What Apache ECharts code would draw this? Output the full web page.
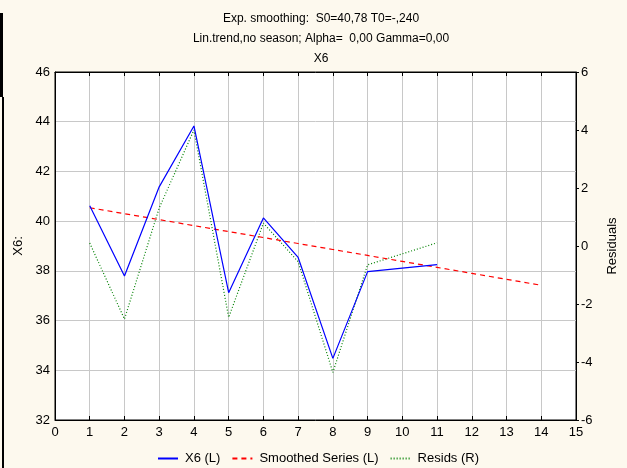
<!DOCTYPE html>
<html>
<head>
<meta charset="utf-8">
<script src="https://cdn.jsdelivr.net/npm/echarts@6/dist/echarts.min.js"></script>
<style>
  html, body { margin: 0; padding: 0; background: #fdf9ee; }
  #chart { width: 627px; height: 468px; }
</style>
</head>
<body>
<div id="chart"></div>
<script>
// Observed series X6 (left axis), time index 1..11
const obsT = [1, 2, 3, 4, 5, 6, 7, 8, 9, 10, 11];
const x6 = [40.62, 37.79, 41.38, 43.83, 37.12, 40.13, 38.54, 34.48, 37.97, 38.11, 38.25];
// Smoothed series with linear trend (left axis), time index 1..14
const smT = [1, 2, 3, 4, 5, 6, 7, 8, 9, 10, 11, 12, 13, 14];
const smoothed = [40.54, 40.30, 40.06, 39.82, 39.58, 39.34, 39.10, 38.86, 38.62, 38.38, 38.14, 37.90, 37.66, 37.42];
// Residuals (right axis)
const resids = [0.10, -2.52, 1.31, 4.00, -2.46, 0.79, -0.54, -4.36, -0.65, -0.27, 0.11];

const titleLines = [
  'Exp. smoothing:  S0=40,78 T0=-,240',
  'Lin.trend,no season; Alpha=  0,00 Gamma=0,00',
  'X6'
];

const pairs = (xs, ys) => xs.map((x, i) => [x, ys[i]]);

const font = 'Arial, "Liberation Sans", sans-serif';
const chart = echarts.init(document.getElementById('chart'));

chart.setOption({
  backgroundColor: '#fdf9ee',
  animation: false,
  title: {
    text: titleLines.join('\n'),
    left: 316,
    textAlign: 'center',
    top: 4,
    textStyle: { fontFamily: font, fontSize: 12, fontWeight: 'normal', color: '#000', lineHeight: 20 }
  },
  grid: { left: 55, right: 49, top: 72, bottom: 48, show: true, backgroundColor: '#fff', borderColor: '#000', borderWidth: 1 },
  legend: {
    bottom: -2,
    left: 152,
    itemWidth: 20,
    itemHeight: 10,
    itemGap: 11,
    itemStyle: { opacity: 0 },
    textStyle: { fontFamily: font, fontSize: 13, color: '#000', padding: [0, 0, 0, 2] },
    data: ['X6 (L)', 'Smoothed Series (L)', 'Resids (R)']
  },
  xAxis: [{
    type: 'value', min: 0, max: 15, interval: 1,
    axisLine: { onZero: false, lineStyle: { color: '#000' } },
    axisTick: { inside: true, length: 4, lineStyle: { color: '#000' } },
    axisLabel: { fontFamily: font, fontSize: 13, color: '#000', margin: 6 },
    splitLine: { show: true, lineStyle: { color: '#c8c8c8', width: 1 } }
  }, {
    type: 'value', min: 0, max: 15, interval: 1, position: 'top',
    axisLine: { onZero: false, lineStyle: { color: '#000' } },
    axisTick: { inside: true, length: 4, lineStyle: { color: '#000' } },
    axisLabel: { show: false },
    splitLine: { show: false }
  }],
  yAxis: [{
    type: 'value', min: 32, max: 46, interval: 2, position: 'left',
    name: 'X6:', nameLocation: 'middle', nameGap: 30,
    nameTextStyle: { fontFamily: font, fontSize: 13, color: '#000' },
    axisLine: { show: true, onZero: false, lineStyle: { color: '#000' } },
    axisTick: { show: false },
    axisLabel: { fontFamily: font, fontSize: 13, color: '#000', margin: 5 },
    splitLine: { show: true, lineStyle: { color: '#c8c8c8', width: 1 } }
  }, {
    type: 'value', min: -6, max: 6, interval: 2, position: 'right',
    name: 'Residuals', nameLocation: 'middle', nameGap: 30,
    nameTextStyle: { fontFamily: font, fontSize: 13, color: '#000' },
    axisLine: { show: true, onZero: false, lineStyle: { color: '#000' } },
    axisTick: { show: true, length: 3, lineStyle: { color: '#000' } },
    axisLabel: { fontFamily: font, fontSize: 13, color: '#000', margin: 5 },
    splitLine: { show: false }
  }],
  series: [{
    name: 'X6 (L)', type: 'line', xAxisIndex: 0, yAxisIndex: 0,
    symbol: 'none', data: pairs(obsT, x6),
    lineStyle: { color: '#0000ff', width: 1.2 }, itemStyle: { color: '#0000ff' }, z: 4
  }, {
    name: 'Smoothed Series (L)', type: 'line', xAxisIndex: 0, yAxisIndex: 0,
    symbol: 'none', data: pairs(smT, smoothed),
    lineStyle: { color: '#ff0000', width: 1.2, type: [5, 4] }, itemStyle: { color: '#ff0000' }, z: 3
  }, {
    name: 'Resids (R)', type: 'line', xAxisIndex: 0, yAxisIndex: 1,
    symbol: 'none', data: pairs(obsT, resids),
    lineStyle: { color: '#008000', width: 1.2, type: [1, 2] }, itemStyle: { color: '#008000' }, z: 2
  }],
  graphic: [
    { type: 'rect', left: 0, top: 13, shape: { width: 3, height: 84 }, style: { fill: '#000' } },
    { type: 'rect', left: 2, top: 97, shape: { width: 2, height: 371 }, style: { fill: '#000' } }
  ]
});
</script>
</body>
</html>
